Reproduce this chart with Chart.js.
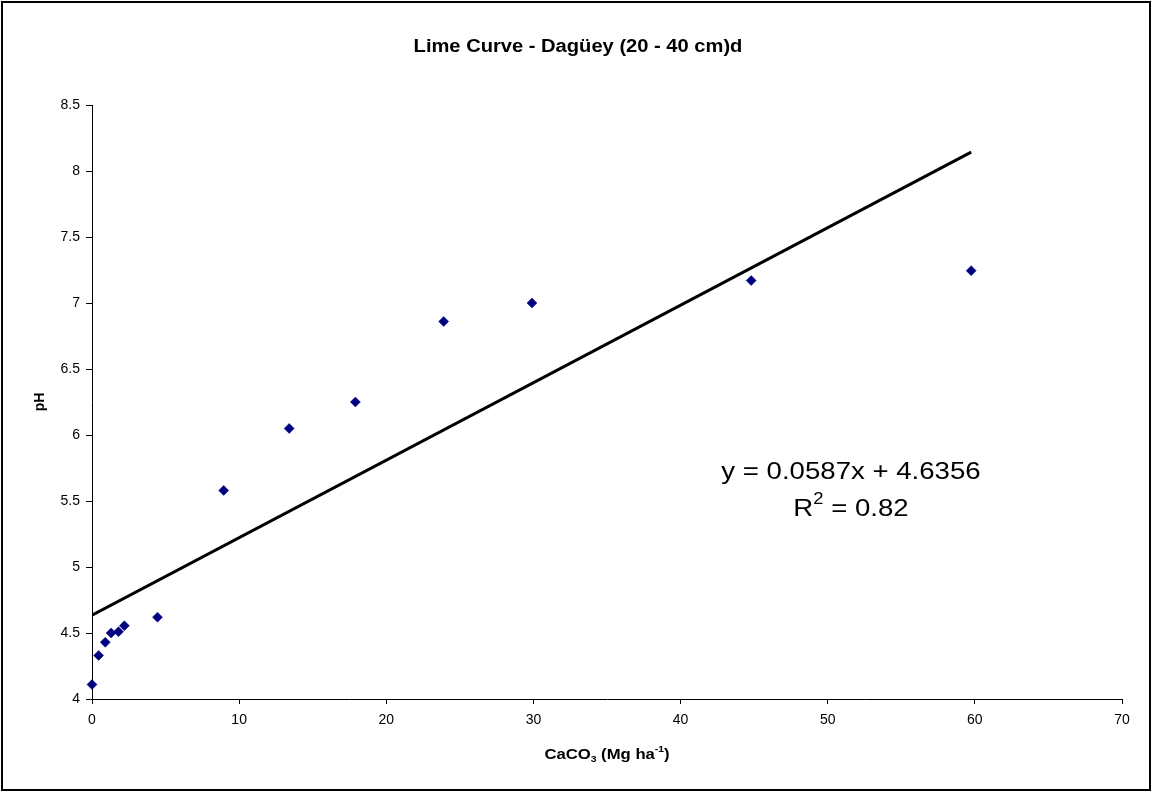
<!DOCTYPE html>
<html lang="en">
<head>
  <meta charset="UTF-8">
  <title>Lime Curve - Dagüey (20 - 40 cm)d</title>
  <script src="https://cdn.jsdelivr.net/npm/chart.js"></script>
  <style>
    body { margin: 0; background-color: #fff; }
    #wrap { width: 1152px; height: 792px; }
  </style>
</head>
<body>
  <div id="wrap">
    <canvas id="limeChart" width="1152" height="792"></canvas>
  </div>

  <script>
    const doseX = [0, 0.45, 0.9, 1.3, 1.8, 2.2, 4.45, 8.95, 13.4, 17.9, 23.9, 29.9, 44.8, 59.75];
    const phY = [4.11, 4.33, 4.43, 4.50, 4.51, 4.555, 4.62, 5.58, 6.05, 6.25, 6.86, 7.0, 7.17, 7.245];

    // linear trend line as printed on the chart
    const slope = 0.0587;
    const intercept = 4.6356;
    const rSquared = '0.82';

    const xTicks = [0, 10, 20, 30, 40, 50, 60, 70];
    const yTicks = [4, 4.5, 5, 5.5, 6, 6.5, 7, 7.5, 8, 8.5];

    const points = doseX.map((x, i) => ({ x: x, y: phY[i] }));
    const xEnd = Math.max(...doseX);
    const trend = [
      { x: 0, y: intercept },
      { x: xEnd, y: slope * xEnd + intercept }
    ];

    // text is a bit wider than normal Arial in the original
    const stretch = 1.15;
    function drawText(ctx, text, x, y, font, align) {
      ctx.save();
      ctx.font = font;
      ctx.textBaseline = 'middle';
      ctx.textAlign = 'left';
      const w = ctx.measureText(text).width * stretch;
      let left = x;
      if (align === 'center') left = x - w / 2;
      if (align === 'right') left = x - w;
      ctx.translate(left, y);
      ctx.scale(stretch, 1);
      ctx.fillText(text, 0, 0);
      ctx.restore();
      return w;
    }

    // draws pieces [text, shift] one after another, shift = 'sub' / 'sup' / null
    function drawRich(ctx, parts, cx, y, size, bold) {
      const weight = bold ? 'bold ' : '';
      const big = weight + size + 'px Arial';
      const small = weight + Math.round(size * 0.65) + 'px Arial';
      ctx.save();
      let total = 0;
      parts.forEach(p => {
        ctx.font = p[1] ? small : big;
        total += ctx.measureText(p[0]).width * stretch;
      });
      let x = cx - total / 2;
      parts.forEach(p => {
        let dy = 0;
        if (p[1] === 'sub') dy = size * 0.3;
        if (p[1] === 'sup') dy = -size * 0.38;
        x += drawText(ctx, p[0], x, y + dy, p[1] ? small : big, 'left');
      });
      ctx.restore();
    }

    const extras = {
      id: 'extras',
      beforeDraw(chart) {
        const ctx = chart.ctx;
        ctx.save();
        ctx.fillStyle = '#fff';
        ctx.fillRect(0, 0, chart.width, chart.height);
        ctx.restore();
      },
      afterDraw(chart) {
        const ctx = chart.ctx;
        const area = chart.chartArea;
        ctx.save();
        ctx.fillStyle = '#000';

        // frame around the whole chart
        ctx.strokeStyle = '#000';
        ctx.lineWidth = 2;
        ctx.strokeRect(2, 2, 1148, 788);

        // title
        drawText(ctx, 'Lime Curve - Dagüey (20 - 40 cm)d', 578, 47, 'bold 17.5px Arial', 'center');

        // x axis title with CO3 subscript and -1 superscript
        drawRich(ctx, [['CaCO', null], ['3', 'sub'], [' (Mg ha', null], ['-1', 'sup'], [')', null]],
          (area.left + area.right) / 2, 755, 14.5, true);

        // y axis title
        ctx.save();
        ctx.translate(40, (area.top + area.bottom) / 2);
        ctx.rotate(-Math.PI / 2);
        ctx.font = 'bold 14px Arial';
        ctx.textAlign = 'center';
        ctx.textBaseline = 'middle';
        ctx.fillText('pH', 0, 0);
        ctx.restore();

        // trend equation
        drawText(ctx, 'y = ' + slope + 'x + ' + intercept, 851, 472, '24px Arial', 'center');
        drawRich(ctx, [['R', null], ['2', 'sup'], [' = ' + rSquared, null]], 851, 509, 24, false);

        ctx.restore();
      }
    };

    const ctx = document.getElementById('limeChart').getContext('2d');
    new Chart(ctx, {
      type: 'scatter',
      data: {
        datasets: [
          {
            label: 'pH',
            data: points,
            pointStyle: 'rectRot',
            pointRadius: 5,
            pointBorderWidth: 0.5,
            backgroundColor: '#000080',
            borderColor: '#000080',
            showLine: false,
            clip: false
          },
          {
            label: 'Linear',
            data: trend,
            showLine: true,
            pointRadius: 0,
            borderColor: '#000',
            borderWidth: 3,
            fill: false
          }
        ]
      },
      options: {
        responsive: false,
        animation: false,
        layout: { padding: { top: 105, right: 30, left: 0, bottom: 0 } },
        plugins: {
          legend: { display: false },
          tooltip: { enabled: false },
          title: { display: false }
        },
        scales: {
          x: {
            type: 'linear',
            min: 0,
            max: 70,
            afterFit: s => { s.height = 93; },
            afterBuildTicks: s => { s.ticks = xTicks.map(v => ({ value: v })); },
            ticks: { color: '#000', font: { family: 'Arial', size: 14 }, padding: 8, maxRotation: 0,
              callback: v => String(v) },
            grid: { drawOnChartArea: false, tickLength: 5, tickColor: '#000', tickWidth: 1 },
            border: { color: '#000', width: 1 }
          },
          y: {
            type: 'linear',
            min: 4,
            max: 8.5,
            afterFit: s => { s.width = 92; },
            afterBuildTicks: s => { s.ticks = yTicks.map(v => ({ value: v })); },
            ticks: { color: '#000', font: { family: 'Arial', size: 14 }, padding: 6,
              callback: v => String(v) },
            grid: { drawOnChartArea: false, tickLength: 6, tickColor: '#000', tickWidth: 1 },
            border: { color: '#000', width: 1 }
          }
        }
      },
      plugins: [extras]
    });
  </script>
</body>
</html>
